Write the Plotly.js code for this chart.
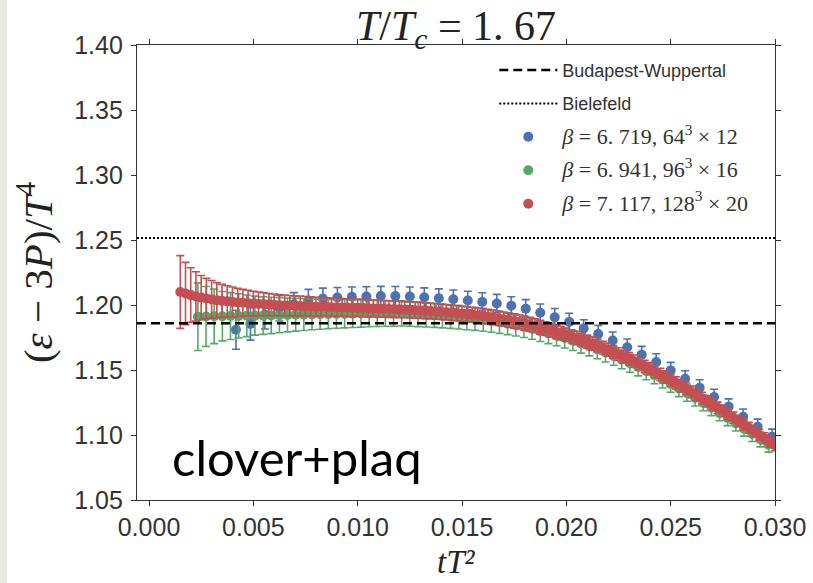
<!DOCTYPE html>
<html>
<head>
<meta charset="utf-8">
<script src="https://cdn.plot.ly/plotly-3.0.1.min.js"></script>
<style>
  html, body { margin: 0; padding: 0; background: #ffffff; }
  #chart { width: 813px; height: 583px; }
  #strip { position: absolute; left: 0; top: 0; width: 7px; height: 583px; background: #e8e8e4; }
</style>
</head>
<body>
<div id="chart"></div>
<div id="strip"></div>
<script>
// ---- data ----
const xRange = [-0.000575, 0.030];
const yRange = [1.05, 1.40];
const bwLevel = 1.186;     // Budapest-Wuppertal
const bielLevel = 1.2515;  // Bielefeld

// beta = 6.719, 64^3 x 12
const xBlue = [0.004167,0.004861,0.005556,0.00625,0.006944,0.007639,0.008333,0.009028,0.009722,0.010417,
  0.011111,0.011806,0.0125,0.013194,0.013889,0.014583,0.015278,0.015972,0.016667,0.017361,
  0.018056,0.01875,0.019444,0.020139,0.020833,0.021528,0.022222,0.022917,0.023611,0.024306,
  0.025,0.025694,0.026389,0.027083,0.027778,0.028472,0.029167,0.029861];
const yBlue = [1.181,1.1855,1.1925,1.1975,1.2005,1.2035,1.2050,1.2058,1.2064,1.2066,
  1.2069,1.2069,1.2066,1.2060,1.2052,1.2044,1.2035,1.2024,1.2012,1.1995,
  1.1972,1.1940,1.1905,1.1870,1.1820,1.1777,1.1727,1.1675,1.1618,1.1562,
  1.1497,1.1432,1.1364,1.1292,1.1218,1.1141,1.1064,1.0987];
const eBlue = [0.015,0.0125,0.011,0.0098,0.009,0.0085,0.008,0.0077,0.0075,0.0074,
  0.0074,0.0073,0.0073,0.0072,0.0072,0.0071,0.0071,0.007,0.007,0.0069,
  0.0069,0.0068,0.0068,0.0067,0.0066,0.0066,0.0065,0.0064,0.0064,0.0063,
  0.0062,0.0062,0.0061,0.006,0.006,0.0059,0.0058,0.0058];

// beta = 6.941, 96^3 x 16
const xGreen = [0.002344,0.002734,0.003125,0.003516,0.003906,0.004297,0.004688,0.005078,0.005469,0.005859,
  0.00625,0.006641,0.007031,0.007422,0.007813,0.008203,0.008594,0.008984,0.009375,0.009766,
  0.010156,0.010547,0.010938,0.011328,0.011719,0.012109,0.0125,0.012891,0.013281,0.013672,
  0.014063,0.014453,0.014844,0.015234,0.015625,0.016016,0.016406,0.016797,0.017188,0.017578,
  0.017969,0.018359,0.01875,0.019141,0.019531,0.019922,0.020313,0.020703,0.021094,0.021484,
  0.021875,0.022266,0.022656,0.023047,0.023438,0.023828,0.024219,0.024609,0.025,0.025391,
  0.025781,0.026172,0.026563,0.026953,0.027344,0.027734,0.028125,0.028516,0.028906,0.029297,
  0.029688];
const yGreen = [1.1910,1.1912,1.1913,1.1914,1.1915,1.1916,1.1917,1.1918,1.1919,1.1920,
  1.1922,1.1923,1.1925,1.1926,1.1928,1.1929,1.1930,1.1931,1.1932,1.1933,
  1.1934,1.1935,1.1935,1.1935,1.1935,1.1935,1.1932,1.1929,1.1925,1.1921,
  1.1916,1.1911,1.1905,1.1899,1.1893,1.1885,1.1876,1.1867,1.1856,1.1844,
  1.1832,1.1817,1.1799,1.1782,1.1764,1.1746,1.1726,1.1705,1.1683,1.1659,
  1.1634,1.1608,1.1580,1.1552,1.1523,1.1492,1.1460,1.1426,1.1393,1.1358,
  1.1322,1.1284,1.1247,1.1209,1.1170,1.1131,1.1090,1.1049,1.1008,1.0966,
  1.0925];
const eGreen = [0.026,0.023,0.021,0.019,0.018,0.017,0.016,0.015,0.0145,0.014,
  0.0135,0.013,0.0126,0.0122,0.0118,0.0115,0.0112,0.011,0.0108,0.0106,
  0.0104,0.0102,0.0100,0.0099,0.0098,0.0097,0.0096,0.0095,0.0094,0.0093,
  0.0092,0.0091,0.009,0.0089,0.0088,0.0087,0.0086,0.0085,0.0084,0.0083,
  0.0082,0.0081,0.008,0.0079,0.0078,0.0077,0.0076,0.0075,0.0074,0.0073,
  0.0072,0.0071,0.007,0.0069,0.0068,0.0067,0.0066,0.0065,0.0064,0.0063,
  0.0062,0.0061,0.006,0.006,0.006,0.0059,0.0059,0.0058,0.0058,0.0057,
  0.0057];

// beta = 7.117, 128^3 x 20
const xRed = [0.0015,0.00175,0.002,0.00225,0.0025,0.00275,0.003,0.00325,0.0035,0.00375,
  0.004,0.00425,0.0045,0.00475,0.005,0.00525,0.0055,0.00575,0.006,0.00625,
  0.0065,0.00675,0.007,0.00725,0.0075,0.00775,0.008,0.00825,0.0085,0.00875,
  0.009,0.00925,0.0095,0.00975,0.010,0.01025,0.0105,0.01075,0.011,0.01125,
  0.0115,0.01175,0.012,0.01225,0.0125,0.01275,0.013,0.01325,0.0135,0.01375,
  0.014,0.01425,0.0145,0.01475,0.015,0.01525,0.0155,0.01575,0.016,0.01625,
  0.0165,0.01675,0.017,0.01725,0.0175,0.01775,0.018,0.01825,0.0185,0.01875,
  0.019,0.01925,0.0195,0.01975,0.020,0.02025,0.0205,0.02075,0.021,0.02125,
  0.0215,0.02175,0.022,0.02225,0.0225,0.02275,0.023,0.02325,0.0235,0.02375,
  0.024,0.02425,0.0245,0.02475,0.025,0.02525,0.0255,0.02575,0.026,0.02625,
  0.0265,0.02675,0.027,0.02725,0.0275,0.02775,0.028,0.02825,0.0285,0.02875,
  0.029,0.02925,0.0295,0.02975,0.030];
const yRed = [1.2100,1.2088,1.2076,1.2066,1.2057,1.2050,1.2043,1.2037,1.2032,1.2028,
  1.2024,1.2020,1.2017,1.2014,1.2011,1.2008,1.2006,1.2003,1.2001,1.1999,
  1.1997,1.1995,1.1993,1.1992,1.1990,1.1989,1.1987,1.1986,1.1985,1.1983,
  1.1982,1.1981,1.1980,1.1979,1.1978,1.1976,1.1975,1.1974,1.1972,1.1971,
  1.1969,1.1968,1.1966,1.1964,1.1962,1.1960,1.1958,1.1955,1.1953,1.1950,
  1.1947,1.1944,1.1940,1.1937,1.1933,1.1929,1.1925,1.1920,1.1915,1.1910,
  1.1904,1.1898,1.1891,1.1884,1.1877,1.1869,1.1861,1.1851,1.1840,1.1829,
  1.1818,1.1807,1.1795,1.1784,1.1772,1.1759,1.1746,1.1732,1.1718,1.1703,
  1.1688,1.1672,1.1656,1.1639,1.1622,1.1604,1.1586,1.1567,1.1548,1.1528,
  1.1508,1.1487,1.1466,1.1445,1.1423,1.1401,1.1378,1.1355,1.1331,1.1307,
  1.1283,1.1259,1.1234,1.1209,1.1184,1.1159,1.1133,1.1107,1.1081,1.1055,
  1.1028,1.1002,1.0975,1.0948,1.0921];
const eRed = [0.028,0.024,0.021,0.019,0.017,0.0155,0.0145,0.0135,0.0127,0.012,
  0.0114,0.0108,0.0103,0.0099,0.0095,0.0092,0.0089,0.0086,0.0084,0.0082,
  0.008,0.0078,0.0077,0.0076,0.0075,0.0074,0.0073,0.0072,0.0071,0.007,
  0.0069,0.0068,0.0068,0.0067,0.0067,0.0066,0.0066,0.0065,0.0065,0.0064,
  0.0064,0.0063,0.0063,0.0062,0.0062,0.0061,0.0061,0.006,0.006,0.006,
  0.0059,0.0059,0.0059,0.0058,0.0058,0.0058,0.0057,0.0057,0.0057,0.0056,
  0.0056,0.0056,0.0055,0.0055,0.0055,0.0054,0.0054,0.0054,0.0053,0.0053,
  0.0053,0.0052,0.0052,0.0052,0.0051,0.0051,0.0051,0.005,0.005,0.005,
  0.005,0.0049,0.0049,0.0049,0.0049,0.0048,0.0048,0.0048,0.0048,0.0047,
  0.0047,0.0047,0.0047,0.0046,0.0046,0.0046,0.0046,0.0045,0.0045,0.0045,
  0.0045,0.0044,0.0044,0.0044,0.0044,0.0043,0.0043,0.0043,0.0043,0.0042,
  0.0042,0.0042,0.0042,0.0041,0.0041];

const mathSpan = '<span style="font-family:\'Liberation Serif\';font-size:22px">';
const names = [
  'Budapest-Wuppertal',
  'Bielefeld',
  mathSpan + '<i>β</i> = 6. 719, 64<sup>3</sup> × 12</span>',
  mathSpan + '<i>β</i> = 6. 941, 96<sup>3</sup> × 16</span>',
  mathSpan + '<i>β</i> = 7. 117, 128<sup>3</sup> × 20</span>'
];
const colors = ['#4C72B0', '#55A868', '#C44E52'];

function errTrace(x, y, e, name, color, rank) {
  return {
    x: x, y: y, type: 'scatter', mode: 'markers', name: name,
    legendgroup: 'g' + rank, legendrank: rank,
    marker: { color: color, size: 10 },
    error_y: { type: 'data', array: e, visible: true, color: color, thickness: 1.6, width: 4 }
  };
}

const traces = [
  errTrace(xBlue, yBlue, eBlue, names[2], colors[0], 3),
  errTrace(xGreen, yGreen, eGreen, names[3], colors[1], 4),
  errTrace(xRed, yRed, eRed, names[4], colors[2], 5),
  { x: xRange, y: [bwLevel, bwLevel], type: 'scatter', mode: 'lines', name: names[0],
    legendgroup: 'g1', legendrank: 1,
    line: { color: '#000000', width: 2.5, dash: '9px,5px' } },
  { x: xRange, y: [bielLevel, bielLevel], type: 'scatter', mode: 'lines', name: names[1],
    legendgroup: 'g2', legendrank: 2,
    line: { color: '#000000', width: 2, dash: '2px,2px' } }
];

const axisCommon = {
  showline: true, mirror: 'ticks', linecolor: '#333333', linewidth: 1.2,
  ticks: 'outside', ticklen: 5, tickwidth: 1, tickcolor: '#333333',
  showgrid: false, zeroline: false,
  tickfont: { family: 'Liberation Sans, Arial, sans-serif', size: 25, color: '#333333' }
};

const layout = {
  width: 813, height: 583,
  margin: { l: 137, r: 38, t: 45, b: 83 },
  paper_bgcolor: '#ffffff', plot_bgcolor: '#ffffff',
  showlegend: true,
  title: {
    text: '<i>T</i>/<i>T<sub>c</sub></i> = 1. 67',
    font: { family: 'Liberation Serif, serif', size: 42, color: '#222222' },
    x: 0.5, xref: 'paper', xanchor: 'center',
    y: 0.957, yref: 'container', yanchor: 'middle'
  },
  xaxis: Object.assign({}, axisCommon, {
    range: xRange, tick0: 0, dtick: 0.005, tickformat: '.3f'
  }),
  yaxis: Object.assign({}, axisCommon, {
    range: yRange, tick0: 1.05, dtick: 0.05, tickformat: '.2f', ticklabelstandoff: 3,
    title: { text: '(<i>ε</i> − 3<i>P</i>)/<i>T</i><sup>4</sup>', standoff: 8,
      font: { family: 'Liberation Serif, serif', size: 41, color: '#222222' } }
  }),
  legend: {
    x: 0.56, y: 0.985, xanchor: 'left', yanchor: 'top',
    bgcolor: 'rgba(0,0,0,0)', borderwidth: 0,
    font: { family: 'Liberation Sans, Arial, sans-serif', size: 18, color: '#333333' },
    itemwidth: 58, tracegroupgap: 7, traceorder: 'grouped'
  },
  annotations: [
    {
      x: 0.00709, y: 1.083, xref: 'x', yref: 'y',
      text: 'clover+plaq', showarrow: false,
      xanchor: 'center', yanchor: 'middle',
      font: { family: 'Lato, Carlito, sans-serif', size: 49, color: '#000000' }
    },
    {
      x: 0.5, y: -0.1355, xref: 'paper', yref: 'paper',
      text: '<i>tT²</i>', showarrow: false,
      xanchor: 'center', yanchor: 'middle', borderpad: 0,
      font: { family: 'Liberation Serif, serif', size: 33, color: '#222222' }
    }
  ]
};

Plotly.newPlot('chart', traces, layout, { displayModeBar: false, staticPlot: true });
</script>
</body>
</html>
